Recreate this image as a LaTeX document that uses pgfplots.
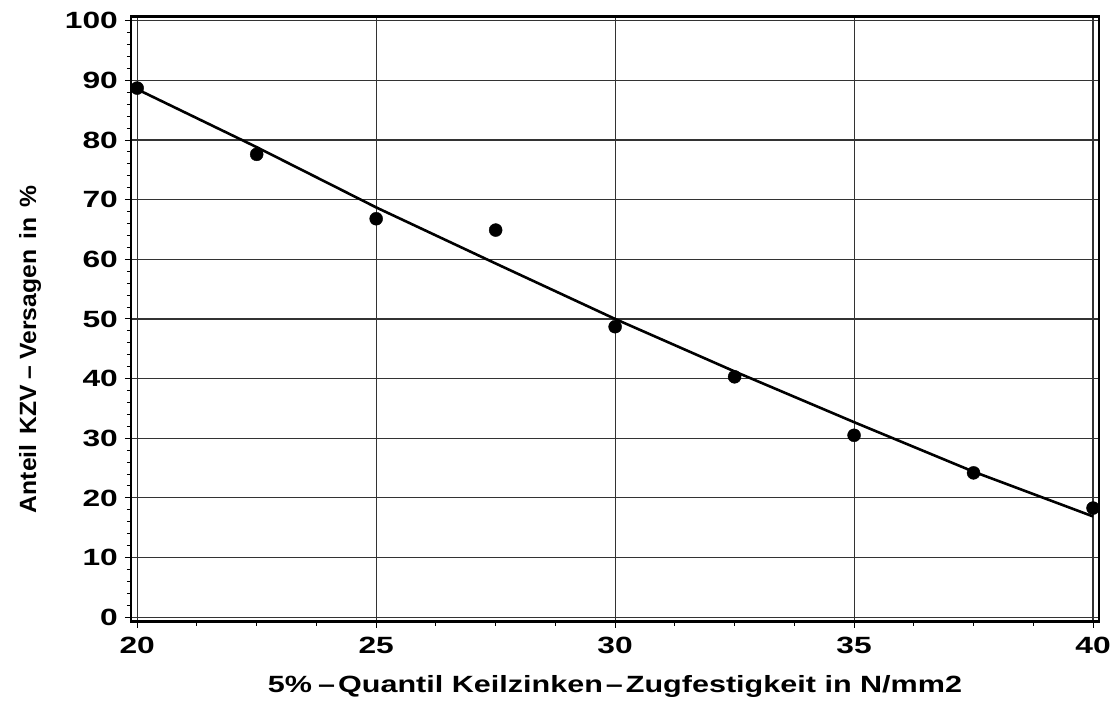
\documentclass[border=0pt]{standalone}
\usepackage{pgfplots}
\pgfplotsset{compat=1.18}
\usepackage{fontspec}
\setmainfont{Liberation Sans}
\newfontfamily\tickfont[FakeStretch=1.35]{Liberation Sans Bold}
\newfontfamily\xlabfont[FakeStretch=1.3]{Liberation Sans Bold}
\newfontfamily\ylabfont[FakeStretch=1.05]{Liberation Sans Bold}

\begin{document}
\begin{tikzpicture}
\begin{axis}[
  scale only axis,
  width=968pt, height=605pt,
  xmin=19.87, xmax=40.125,
  ymin=-0.75, ymax=100.67,
  xtick={20,25,30,35,40},
  ytick={0,10,...,100},
  minor x tick num=3,
  minor y tick num=4,
  xtick pos=bottom, ytick pos=left,
  tick align=outside,
  major tick length=6pt,
  minor tick length=4pt,
  tick style={black, line width=1pt},
  grid=major,
  major grid style={black!80, line width=1.1pt},
  axis line style={black, line width=2.5pt},
  /pgf/number format/assume math mode=true,
  ticklabel style={font=\fontsize{23.5}{24}\selectfont\tickfont, inner sep=0pt},
  xticklabel style={anchor=north},
  yticklabel style={anchor=east},
  xticklabel shift=9pt,
  yticklabel shift=7pt,
  xlabel={5\%\hspace{6pt}–\hspace{3pt}Quantil Keilzinken\hspace{3pt}–\hspace{3pt}Zugfestigkeit in N/mm2},
  ylabel={Anteil\hspace{10pt}KZV\hspace{6pt}–\hspace{6pt}Versagen\hspace{10pt}in\hspace{10pt}\%},
  xlabel style={font=\fontsize{23.5}{24}\selectfont\xlabfont,
    at={(rel axis cs:0.5,0)}, anchor=base, yshift=-71pt},
  ylabel style={font=\fontsize{23.5}{24}\selectfont\ylabfont,
    at={(rel axis cs:0,0.45)}, anchor=center, yshift=101pt},
  clip=false,
]
% fitted curve
\addplot[black, line width=2.6pt, no marks] coordinates {
  (20,88.5) (22.5,78.8) (25,68.7) (27.5,59.3) (30,50.0)
  (32.5,41.2) (35,32.7) (37.5,24.4) (40,16.9)
};
% observed shares
\addplot[only marks, mark=*, mark size=6.5pt, black] coordinates {
  (20,88.7) (22.5,77.6) (25,66.8) (27.5,64.9) (30,48.7)
  (32.5,40.3) (35,30.5) (37.5,24.2) (40,18.3)
};
\coordinate (ll) at (rel axis cs:0,0);
\coordinate (ur) at (rel axis cs:1,1);
\end{axis}
\pgfresetboundingbox
\path[use as bounding box] ([shift={(-131pt,-80pt)}]ll) rectangle ([shift={(18pt,16.7pt)}]ur);
\end{tikzpicture}
\end{document}
